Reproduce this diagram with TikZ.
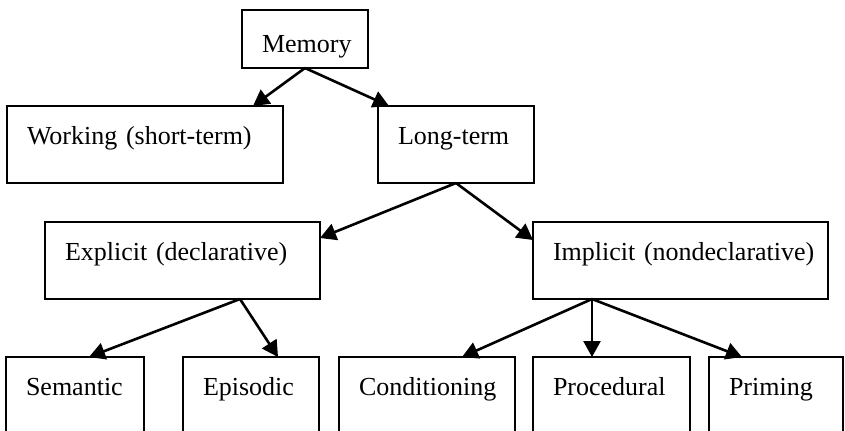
\documentclass[tikz,border=0pt]{standalone}
\usepackage{fontspec}
\setmainfont{Liberation Serif}
\usetikzlibrary{arrows.meta,positioning}

\begin{document}
\begin{tikzpicture}[x=0.5pt,y=-0.5pt,>={Triangle[length=8pt,width=8.5pt]}]
        \tikzset{block/.style={draw, rectangle, line width=1.2pt, align=left, inner xsep=10pt, inner ysep=0pt, outer sep=0pt,
                font=\fontsize{13}{15.6}\selectfont, text height=19pt, text depth=19.5pt},
        lblock/.style={block, text depth=30pt}, % bottom row runs off the page
        }
        \useasboundingbox (0,0) rectangle (845,430);
        \node [block, align=center, text height=21pt, text depth=8pt, text width=43pt, anchor=north west] (mem) at (242,10) {Memory};
        \node [block, text width=118pt, anchor=north west] (work) at (7,106) {Working (short-term)};
        \node [block, text width=58pt, right=47.5pt of work] (long) {Long-term};
        \node [block, text width=117.5pt, anchor=north west] (expl) at (45,222) {Explicit (declarative)};
        \node [block, text width=127.5pt, right=106.5pt of expl] (impl) {\mbox{Implicit (nondeclarative)}};
        \node [lblock, text width=49pt, anchor=north west] (sem) at (6,357) {Semantic};
        \node [lblock, text width=48pt, right=19.5pt of sem] (epi) {Episodic};
        \node [lblock, text width=68pt, right=10pt of epi] (cond) {Conditioning};
        \node [lblock, text width=58.5pt, right=9pt of cond] (proc) {Procedural};
        \node [lblock, text width=47pt, right=9.5pt of proc] (prim) {Priming};
        \node [coordinate] (worktip) at ([xshift=123pt]work.north west) {};  %% where the arrow meets the box
        \node [coordinate] (longtip) at ([xshift=5.5pt]long.north west) {};
        \node [coordinate] (expltip) at ([yshift=-8pt]expl.north east) {};
        \node [coordinate] (impltip) at ([yshift=-9pt]impl.north west) {};
        \node [coordinate] (explfoot) at ([xshift=97.5pt]expl.south west) {};  %% arrows leave here
        \node [coordinate] (implfoot) at ([xshift=29.5pt]impl.south west) {};
        \node [coordinate] (semtip) at ([xshift=41.5pt]sem.north west) {};
        \node [coordinate] (epitip) at ([xshift=47.5pt]epi.north west) {};
        \node [coordinate] (condtip) at ([xshift=61.5pt]cond.north west) {};
        \node [coordinate] (proctip) at ([xshift=29.5pt]proc.north west) {};
        \node [coordinate] (primtip) at ([xshift=16.5pt]prim.north west) {};

%% paths
        \path[->,line width=1.3pt] (mem.south) edge (worktip)
                    (mem.south) edge (longtip)
                    (long.south) edge (expltip)
                    (long.south) edge (impltip)
                    (explfoot) edge (semtip)
                    (explfoot) edge (epitip)
                    (implfoot) edge (condtip)
                    (implfoot) edge (proctip)
                    (implfoot) edge (primtip)
                    ;
\end{tikzpicture}
\end{document}
